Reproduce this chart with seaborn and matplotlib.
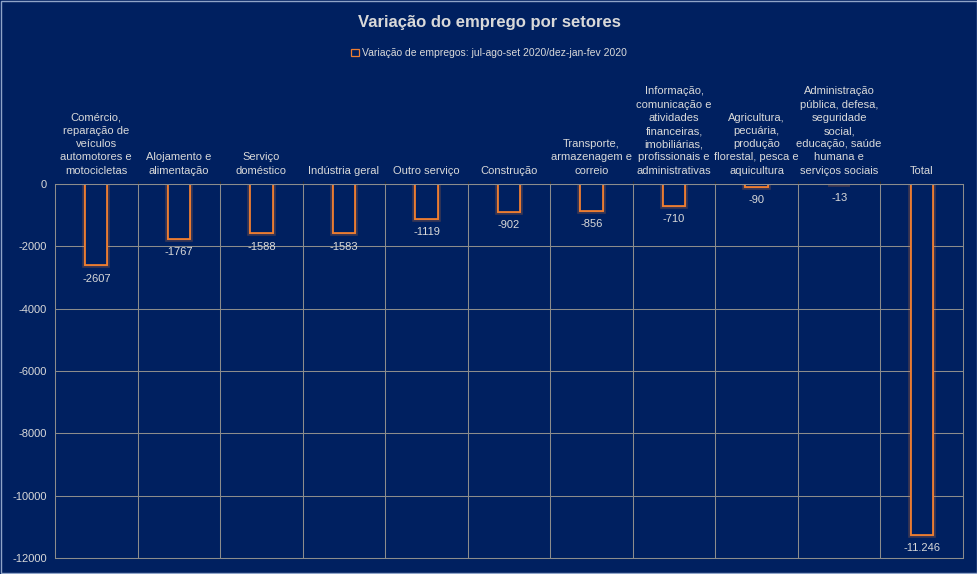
import matplotlib
matplotlib.use("Agg")
import matplotlib.pyplot as plt
import matplotlib.patheffects as pe
import seaborn as sns

# Data
setores = [
    "Comércio,\nreparação de\nveículos\nautomotores e\nmotocicletas",
    "Alojamento e\nalimentação",
    "Serviço\ndoméstico",
    "Indústria geral",
    "Outro serviço",
    "Construção",
    "Transporte,\narmazenagem e\ncorreio",
    "Informação,\ncomunicação e\natividades\nfinanceiras,\nimobiliárias,\nprofissionais e\nadministrativas",
    "Agricultura,\npecuária,\nprodução\nflorestal, pesca e\naquicultura",
    "Administração\npública, defesa,\nseguridade\nsocial,\neducação, saúde\nhumana e\nserviços sociais",
    "Total",
]
variacao = [-2607, -1767, -1588, -1583, -1119, -902, -856, -710, -90, -13, -11246]
rotulos = ["-2607", "-1767", "-1588", "-1583", "-1119", "-902", "-856", "-710", "-90", "-13", "-11.246"]
yticks = [0, -2000, -4000, -6000, -8000, -10000, -12000]

bg = "#002060"
orange = "#ED7D31"
txt = "#D9D9D9"
grid = "#8C8C8C"

sns.set_style("dark")
plt.rcParams["font.family"] = ["Liberation Sans", "DejaVu Sans"]

fig = plt.figure(figsize=(9.78, 5.74), dpi=100, facecolor=bg)
ax = fig.add_axes([55 / 978, 1 - 558 / 574, 908 / 978, 374 / 574])
ax.set_facecolor(bg)

sns.barplot(x=setores, y=variacao, ax=ax, color=bg, edgecolor=orange,
            linewidth=1.3, width=0.27, saturation=1,
            label="Variação de empregos: jul-ago-set 2020/dez-jan-fev 2020")

for bar in ax.patches:
    bar.set_path_effects([pe.withStroke(linewidth=4, foreground=orange, alpha=0.25),
                          pe.Normal()])

ax.bar_label(ax.containers[0], labels=rotulos, padding=6, color=txt, fontsize=8)

ax.set_ylim(-12000, 0)
ax.set_yticks(yticks)
ax.set_yticklabels([str(t) for t in yticks], color=txt, fontsize=8)
ax.set_xlim(-0.5, len(setores) - 0.5)
ax.xaxis.tick_top()
ax.set_xticks(range(len(setores)))
ax.set_xticklabels(setores, color=txt, fontsize=8, linespacing=1.4)
ax.tick_params(length=0, pad=6)

ax.set_xticks([i + 0.5 for i in range(len(setores) - 1)], minor=True)
ax.grid(False)
ax.yaxis.grid(True, color=grid, linewidth=0.75, alpha=1)
ax.xaxis.grid(True, which="minor", color=grid, linewidth=0.75, alpha=1)
ax.set_axisbelow(True)
for s in ax.spines.values():
    s.set_color(grid)
    s.set_linewidth(0.75)

fig.text(0.5, 1 - 22 / 574, "Variação do emprego por setores", ha="center", va="center",
         color=txt, fontsize=12, fontweight="bold")

leg = ax.legend(loc="center", bbox_to_anchor=(0.5, 1 - 53 / 574), bbox_transform=fig.transFigure,
                frameon=False, fontsize=7.5, handlelength=0.7, handleheight=0.7, handletextpad=0.3)
for t in leg.get_texts():
    t.set_color(txt)
for h in leg.legend_handles:
    h.set_path_effects([])
    h.set_linewidth(0.9)

fig.patches.append(plt.Rectangle((0.001, 0.001), 0.998, 0.998, transform=fig.transFigure,
                                 fill=False, edgecolor="#8FA4C8", linewidth=1))

fig.savefig("out.png", dpi=100, facecolor=bg)
